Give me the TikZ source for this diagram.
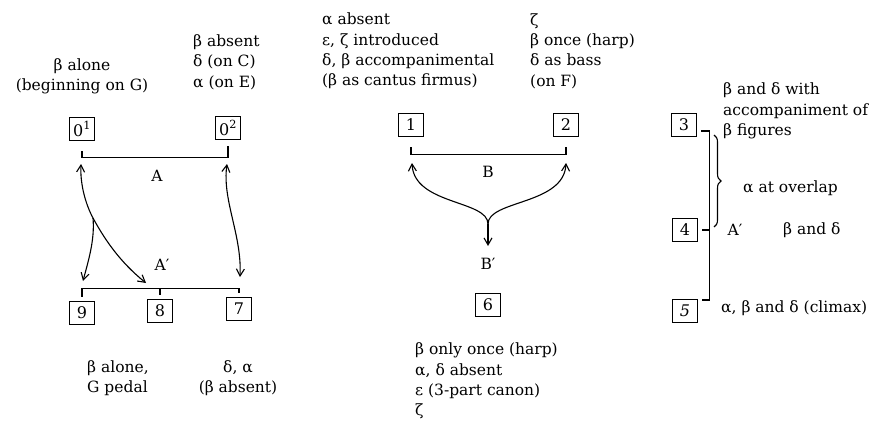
\documentclass[tikz,border=0pt]{standalone}
\usepackage{fontspec}
\setmainfont{DejaVu Serif}
\usetikzlibrary{arrows.meta,decorations.pathreplacing}
\begin{document}
\begin{tikzpicture}[x=1pt,y=-1pt,
  txt/.style={font=\fontsize{15.5}{20.4}\selectfont, inner sep=0pt},
  numbox/.style={draw, line width=1.3pt, minimum width=25pt, minimum height=23pt, inner sep=0pt, font=\fontsize{16}{16}\selectfont},
  ln/.style={line width=1.2pt},
  arr/.style={line width=1.1pt, -{Straight Barb[length=7pt,width=8pt]}},
  arrs/.style={line width=1.1pt, {Straight Barb[length=7pt,width=8pt]}-{Straight Barb[length=7pt,width=8pt]}},
  ]
\useasboundingbox (0,0) rectangle (888,423);

% ---------- left group ----------
\node[txt, align=center] (t01) at (82,76) {β alone\\(beginning on G)};
\node[txt, align=left, anchor=west] (t02) at (193,62) {β absent\\δ (on C)\\α (on E)};
\node[numbox] (o1) at (82,129) {0\textsuperscript{1}};
\node[numbox] (o2) at (228,128) {0\textsuperscript{2}};
\node[numbox] (b9) at (82,313) {9};
\node[numbox] (b8) at (160,311) {8};
\node[numbox] (b7) at (239,309) {7};

\draw[ln] ([yshift=-10pt]o1.south) -- ++(0,6) -| ([yshift=-6pt]o2.south);
\node[txt] (lA) at (157,176) {A};

\coordinate (ap) at (82,288.5);
\draw[ln] ([yshift=4pt]b9.north) -- (b9.north |- ap) -| ([yshift=4pt]b7.north);
\draw[ln] ([yshift=4pt]b8.north) -- (b8.north |- ap);
\node[txt] (lAp) at (162,265) {A′};

\coordinate (up1) at (81,164);
\coordinate (sp) at (93,218);
\coordinate (dn8) at (146,283);
\coordinate (dn9) at (83,281);
\coordinate (up2) at (227,164);
\coordinate (dn7) at (240,277);
\draw[arr] (sp) .. controls (86,205) and (80,185) .. (up1);
\draw[arr] (sp) .. controls (105,240) and (120,262) .. (dn8);
\draw[arr] (sp) .. controls (95,240) and (88,262) .. (dn9);
\draw[arrs] (dn7) .. controls (242,235) and (222,200) .. (up2);

\node[txt, align=left, anchor=west] (t9) at (87,378) {β alone,\\G pedal};
\node[txt, align=center] (t7) at (238,378) {δ, α\\(β absent)};

% ---------- middle group ----------
\node[txt, align=left, anchor=west] (t1) at (322,51) {α absent\\ε, ζ introduced\\δ, β accompanimental\\(β as cantus firmus)};
\node[txt, align=left, anchor=west] (t2) at (530,51) {ζ\\β once (harp)\\δ as bass\\(on F)};
\node[numbox] (b1) at (411,125) {1};
\node[numbox] (b2) at (566,125) {2};
\node[numbox] (b6) at (488,305) {6};

\draw[ln] ([yshift=-10pt]b1.south) -- ++(0,7) -| ([yshift=-10pt]b2.south);
\node[txt] (lB) at (488,172) {B};

\coordinate (m) at (488,224);
\coordinate (u1) at (412,163);
\coordinate (u2) at (566,163);
\coordinate (bd) at (488,246);
\draw[arr] (m) .. controls (488,200) and (414,205) .. (u1);
\draw[arr] (m) .. controls (488,200) and (564,205) .. (u2);
\draw[arr] (m) -- (bd);
\node[txt] (lBp) at (488,264) {B′};

\node[txt, align=left, anchor=west] (t6) at (415,381) {β only once (harp)\\α, δ absent\\ε (3-part canon)\\ζ};

% ---------- right group ----------
\node[numbox] (b3) at (684,125) {3};
\node[numbox] (b4) at (685,230) {4};
\node[numbox] (b5) at (685,311) {\textit{5}};
\coordinate (t5) at ([xshift=4pt,yshift=11pt]b5.east);
\draw[ln] ([xshift=4pt,yshift=-6pt]b3.east) -- ++(8,0) coordinate (vt) -- (vt |- t5) -- (t5);
\draw[ln] ([xshift=4pt]b4.east) -- (vt |- b4.east);
\draw[line width=1.1pt, decorate, decoration={brace, amplitude=7pt}] (714,135) -- (714,227);

\node[txt, align=left, anchor=west] (t3) at (723,111) {β and δ with\\accompaniment of\\β figures};
\node[txt, anchor=west] (tov) at (743,188) {α at overlap};
\node[txt] (lAp2) at (735,230) {A′};
\node[txt, anchor=west] (t4) at (783,230) {β and δ};
\node[txt, anchor=west] (t5t) at (721,308) {α, β and δ (climax)};
\end{tikzpicture}
\end{document}
